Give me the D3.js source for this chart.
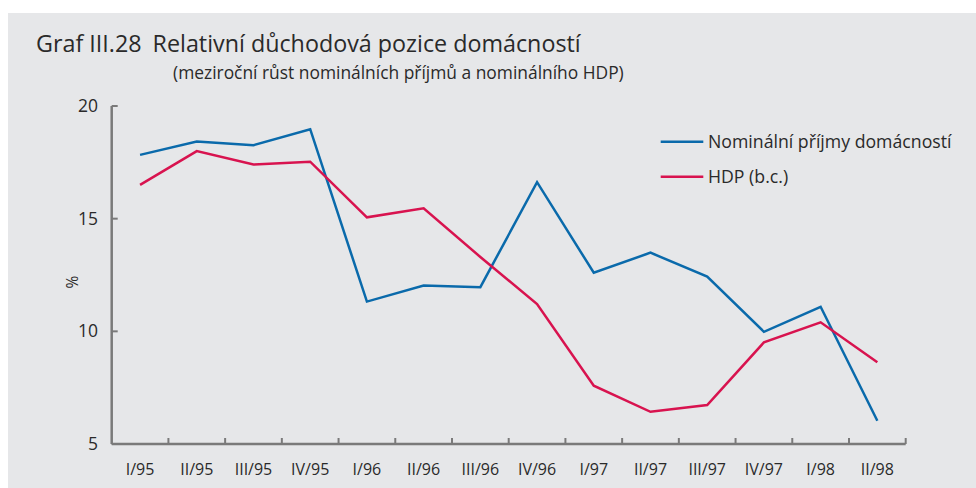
<!DOCTYPE html>
<html lang="cs">
<head>
  <meta charset="UTF-8">
  <title>Graf III.28</title>
  <script src="https://d3js.org/d3.v7.min.js"></script>
  <style>
    body { margin: 0; background: #fff; }
    text { font-family: "Open Sans", Lato, sans-serif; fill: #2a2a2a; }
  </style>
</head>
<body>
  <div id="chart"></div>
  <script>
    const quarters = ["I/95", "II/95", "III/95", "IV/95", "I/96", "II/96", "III/96", "IV/96",
                      "I/97", "II/97", "III/97", "IV/97", "I/98", "II/98"];
    const incomes = [17.83, 18.42, 18.26, 18.97, 11.32, 12.03, 11.96, 16.62,
                     12.6, 13.49, 12.43, 9.98, 11.09, 6.03];
    const gdp = [16.5, 18.0, 17.4, 17.53, 15.06, 15.46, 13.3, 11.21,
                 7.59, 6.43, 6.73, 9.51, 10.4, 8.63];
    const yTicks = [5, 10, 15, 20];
    const seriesNames = ["Nominální příjmy domácností", "HDP (b.c.)"];
    const colors = ["#0a6aab", "#d8134f"];

    const width = 976, height = 488;
    const svg = d3.select("#chart").append("svg")
      .attr("width", width)
      .attr("height", height);

    svg.append("rect")
      .attr("x", 8).attr("y", 13)
      .attr("width", width - 8).attr("height", height - 13)
      .attr("fill", "#e6e7e9");

    const title = svg.append("text")
      .attr("x", 36).attr("y", 52)
      .attr("font-size", 23.3);
    title.append("tspan").text("Graf III.28");
    title.append("tspan").attr("dx", 11).text("Relativní důchodová pozice domácností");
    svg.append("text")
      .attr("x", 173).attr("y", 79)
      .attr("font-size", 17.4)
      .text("(meziroční růst nominálních příjmů a nominálního HDP)");

    const x = d3.scaleBand().domain(quarters).range([111.7, 905.7]);
    const y = d3.scaleLinear().domain([5, 20]).range([444, 106]);
    const axisColor = "#7a7a7a";

    // x axis: ticks on band boundaries, pointing up
    const gx = svg.append("g");
    gx.append("line")
      .attr("x1", x.range()[0]).attr("x2", x.range()[1])
      .attr("y1", y(5)).attr("y2", y(5))
      .attr("stroke", axisColor).attr("stroke-width", 2.5);
    const bounds = quarters.map(q => x(q) + x.bandwidth());
    gx.selectAll(".xt").data(bounds).join("line")
      .attr("x1", d => d).attr("x2", d => d)
      .attr("y1", y(5)).attr("y2", y(5) - 6)
      .attr("stroke", axisColor).attr("stroke-width", 2);
    gx.selectAll(".xl").data(quarters).join("text")
      .attr("x", d => x(d) + x.bandwidth() / 2)
      .attr("y", 475)
      .attr("text-anchor", "middle")
      .attr("font-size", 16)
      .text(d => d);

    // y axis
    const gy = svg.append("g");
    gy.append("line")
      .attr("x1", x.range()[0]).attr("x2", x.range()[0])
      .attr("y1", y(5)).attr("y2", y(20))
      .attr("stroke", axisColor).attr("stroke-width", 2.5);
    gy.selectAll(".yt").data(yTicks).join("line")
      .attr("x1", x.range()[0]).attr("x2", x.range()[0] + 6)
      .attr("y1", d => y(d)).attr("y2", d => y(d))
      .attr("stroke", axisColor).attr("stroke-width", 2);
    gy.selectAll(".yl").data(yTicks).join("text")
      .attr("x", 98).attr("y", d => y(d) + 6)
      .attr("text-anchor", "end")
      .attr("font-size", 17.5)
      .text(d => d);
    svg.append("text")
      .attr("transform", "translate(78,282) rotate(-90)")
      .attr("text-anchor", "middle")
      .attr("font-size", 15.5)
      .text("%");

    const line = d3.line()
      .x((d, i) => x(quarters[i]) + x.bandwidth() / 2)
      .y(d => y(d));

    [incomes, gdp].forEach((s, k) => {
      svg.append("path")
        .datum(s)
        .attr("d", line)
        .attr("fill", "none")
        .attr("stroke", colors[k])
        .attr("stroke-width", 2.5)
        .attr("stroke-linejoin", "miter");
    });

    // legend
    const lg = svg.append("g");
    seriesNames.forEach((name, k) => {
      const ly = 141.7 + k * 35;
      lg.append("line")
        .attr("x1", 660.7).attr("x2", 703.3)
        .attr("y1", ly).attr("y2", ly)
        .attr("stroke", colors[k]).attr("stroke-width", 2.5);
      lg.append("text")
        .attr("x", 708).attr("y", ly + 6)
        .attr("font-size", 17.7)
        .text(name);
    });
  </script>
</body>
</html>
